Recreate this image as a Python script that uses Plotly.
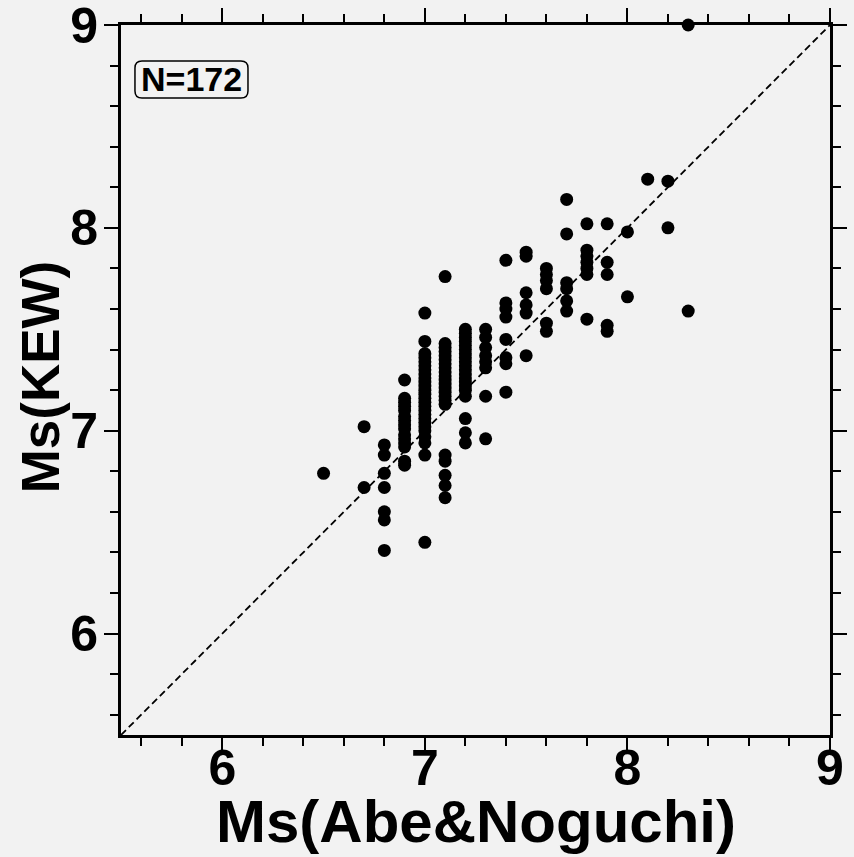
import plotly.graph_objects as go

# Data (Ms Abe&Noguchi vs Ms KEW)
x_65 = [6.5]
y_65 = [6.79]
x_67 = [6.7, 6.7]
y_67 = [7.02, 6.72]
y_68 = [6.93, 6.88, 6.79, 6.72, 6.60, 6.56, 6.41]
y_69 = [7.25, 7.16, 7.14, 7.12, 7.10, 7.07, 7.05, 7.03, 7.01, 6.98, 6.96, 6.94, 6.92, 6.85, 6.83]
y_70 = [7.58, 7.44, 7.38, 7.36, 7.34, 7.32, 7.30, 7.28, 7.26, 7.24, 7.22, 7.20, 7.18, 7.16,
        7.14, 7.12, 7.10, 7.08, 7.06, 7.04, 7.02, 7.00, 6.97, 6.94, 6.88, 6.45]
y_71 = [7.76, 7.43, 7.41, 7.39, 7.37, 7.35, 7.33, 7.31, 7.29, 7.27, 7.25, 7.23, 7.21, 7.19,
        7.17, 7.15, 7.13, 6.88, 6.85, 6.78, 6.73, 6.67]
y_72 = [7.50, 7.48, 7.46, 7.44, 7.42, 7.40, 7.38, 7.36, 7.34, 7.32, 7.30, 7.28, 7.26, 7.24,
        7.22, 7.20, 7.17, 7.06, 6.99, 6.94]
y_73 = [7.50, 7.46, 7.41, 7.37, 7.34, 7.31, 7.17, 6.96]
y_74 = [7.84, 7.63, 7.60, 7.56, 7.45, 7.36, 7.33, 7.19]
y_75 = [7.88, 7.86, 7.68, 7.62, 7.58, 7.37]
y_76 = [7.80, 7.77, 7.74, 7.70, 7.53, 7.49]
y_77 = [8.14, 7.97, 7.73, 7.70, 7.64, 7.59]
y_78 = [8.02, 7.89, 7.86, 7.83, 7.80, 7.77, 7.55]
y_79 = [8.02, 7.83, 7.77, 7.52, 7.49]
y_80 = [7.98, 7.66]
y_81 = [8.24]
y_82 = [8.23, 8.00]
y_83 = [9.00, 7.59]

columns = [
    (6.8, y_68), (6.9, y_69), (7.0, y_70), (7.1, y_71), (7.2, y_72), (7.3, y_73),
    (7.4, y_74), (7.5, y_75), (7.6, y_76), (7.7, y_77), (7.8, y_78), (7.9, y_79),
    (8.0, y_80), (8.1, y_81), (8.2, y_82), (8.3, y_83),
]

xs = list(x_65) + list(x_67)
ys = list(y_65) + list(y_67)
for xv, yl in columns:
    xs += [xv] * len(yl)
    ys += yl

line_ends = [5.5, 9.0]
tick_vals = [6, 7, 8, 9]
x_title = "Ms(Abe&Noguchi)"
y_title = "Ms(KEW)"
count_label = "N=172"

FONT = "Liberation Sans, Arial, sans-serif"
BG = "#f2f2f2"

fig = go.Figure()
fig.add_trace(go.Scatter(x=line_ends, y=line_ends, mode="lines",
                         line=dict(color="black", width=1.8, dash="7px,4px"),
                         hoverinfo="skip", showlegend=False))
fig.add_trace(go.Scatter(x=xs, y=ys, mode="markers",
                         marker=dict(color="black", size=13, line=dict(width=0)),
                         showlegend=False, cliponaxis=False))

axis_common = dict(
    showline=True, linewidth=3, linecolor="black", mirror="allticks",
    ticks="outside", ticklen=14, tickwidth=2, tickcolor="black",
    tickvals=tick_vals, showgrid=False, zeroline=False, automargin=False,
    ticklabeloverflow="allow",
    tickfont=dict(family=FONT, size=50, color="black", weight="bold"),
    minor=dict(dtick=0.2, tick0=0, ticks="outside", ticklen=8, tickwidth=1.5,
               tickcolor="black", showgrid=False),
)

fig.update_xaxes(range=[5.5, 9.0], **axis_common, ticklabelstandoff=-27)
fig.update_yaxes(range=[5.5, 9.0], **axis_common, ticklabelstandoff=-4)

# axis titles
fig.add_annotation(x=0.5, y=-0.1215, xref="paper", yref="paper", text=x_title,
                   showarrow=False, xanchor="center", yanchor="middle",
                   font=dict(family=FONT, size=60, color="black", weight="bold"))
fig.add_annotation(x=-0.113, y=0.505, xref="paper", yref="paper", text=y_title,
                   showarrow=False, xanchor="center", yanchor="middle", textangle=-90,
                   font=dict(family=FONT, size=53, color="black", weight="bold"))

# N label with rounded box
fig.add_annotation(x=0.1001, y=0.9239, xref="paper", yref="paper", text=count_label,
                   showarrow=False, xanchor="center", yanchor="middle",
                   font=dict(family=FONT, size=34, color="black", weight="bold"))
bx0, bx1, by0, by1, r, ry = 0.0197, 0.1791, 0.8972, 0.9493, 0.0099, 0.0099
fig.add_shape(type="path", xref="paper", yref="paper",
              path=(f"M {bx0 + r} {by0} L {bx1 - r} {by0} Q {bx1} {by0} {bx1} {by0 + ry} "
                    f"L {bx1} {by1 - ry} Q {bx1} {by1} {bx1 - r} {by1} "
                    f"L {bx0 + r} {by1} Q {bx0} {by1} {bx0} {by1 - ry} "
                    f"L {bx0} {by0 + ry} Q {bx0} {by0} {bx0 + r} {by0} Z"),
              line=dict(color="black", width=1.5))

fig.update_layout(
    width=854, height=857,
    margin=dict(l=121, r=24, t=25, b=122, autoexpand=False),
    paper_bgcolor=BG, plot_bgcolor=BG,
    showlegend=False,
)

fig.write_html(
    "out.html",
    config={"displayModeBar": False},
    post_script=("document.body.style.margin='0';"
                 "document.body.style.background='#f2f2f2';"
                 "document.documentElement.style.overflow='hidden';"),
)
